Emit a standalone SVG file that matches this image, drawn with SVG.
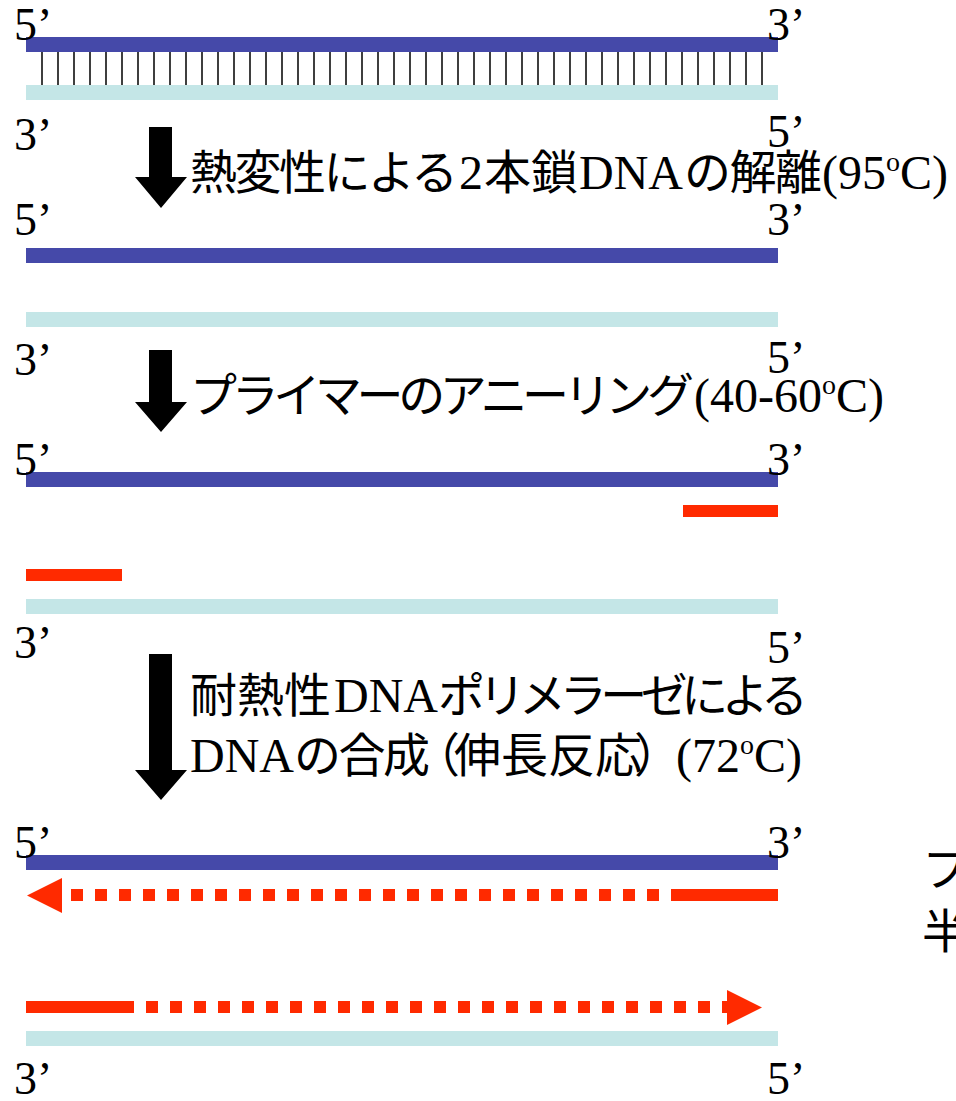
<svg xmlns="http://www.w3.org/2000/svg" width="956" height="1101" viewBox="0 0 956 1101">
<style>
.bg{fill:#ffffff}
.blue{fill:#4549A9}
.cyan{fill:#C4E6E7}
.red{fill:#FF2A00}
.lbl{font-family:"Liberation Serif","Times New Roman",serif;font-size:46px;fill:#000}
.t{font-size:48px;fill:#000}
.lat{font-family:"Liberation Serif","Times New Roman",serif}
.jp{font-family:"Noto Sans CJK JP","Noto Sans CJK SC",sans-serif;font-size:47px}
.sup{font-family:"Liberation Serif","Times New Roman",serif;font-size:28px}
.tick{stroke:#000;stroke-width:1.5}
.dash{stroke:#FF2A00;stroke-width:12;stroke-dasharray:12 12;fill:none}
.blk{fill:#000}
</style>
<rect class="bg" x="0" y="0" width="956" height="1101"/>

<g id="row1">
  <rect class="blue" x="26" y="37" width="752" height="15"/>
  <rect class="cyan" x="26" y="85" width="752" height="15"/>
  <g id="hbonds">
    <path class="tick" d="M42 52V85M58 52V85M74 52V85M90 52V85M106 52V85M122 52V85M138 52V85M154 52V85M170 52V85M186 52V85M202 52V85M218 52V85M234 52V85M250 52V85M266 52V85M282 52V85M298 52V85M314 52V85M330 52V85M346 52V85M362 52V85M378 52V85M394 52V85M410 52V85M426 52V85M442 52V85M458 52V85M474 52V85M490 52V85M506 52V85M522 52V85M538 52V85M554 52V85M570 52V85M586 52V85M602 52V85M618 52V85M634 52V85M650 52V85M666 52V85M682 52V85M698 52V85M714 52V85M730 52V85M746 52V85M762 52V85"/>
  </g>
  <text class="lbl" x="14" y="40">5’</text>
  <text class="lbl" x="767" y="40">3’</text>
  <text class="lbl" x="14" y="150">3’</text>
  <text class="lbl" x="767" y="147">5’</text>
</g>

<g id="row2">
  <rect class="blue" x="26" y="248" width="752" height="15"/>
  <rect class="cyan" x="26" y="312" width="752" height="15"/>
  <text class="lbl" x="14" y="235">5’</text>
  <text class="lbl" x="767" y="235">3’</text>
  <text class="lbl" x="14" y="375">3’</text>
  <text class="lbl" x="767" y="373">5’</text>
</g>

<g id="row3">
  <rect class="blue" x="26" y="472" width="752" height="15"/>
  <rect class="red" x="683" y="505" width="95" height="12"/>
  <rect class="red" x="26" y="569" width="96" height="12"/>
  <rect class="cyan" x="26" y="599" width="752" height="15"/>
  <text class="lbl" x="14" y="475">5’</text>
  <text class="lbl" x="767" y="475">3’</text>
  <text class="lbl" x="14" y="658">3’</text>
  <text class="lbl" x="767" y="663">5’</text>
</g>

<g id="row4">
  <rect class="blue" x="26" y="855" width="752" height="15"/>
  <rect class="red" x="683" y="889" width="95" height="12"/>
  <line class="dash" x1="683" y1="895" x2="71" y2="895"/>
  <polygon class="red" points="27,895.5 62,878 62,913"/>
  <rect class="red" x="26" y="1001" width="96" height="12"/>
  <line class="dash" x1="122" y1="1007" x2="734" y2="1007"/>
  <polygon class="red" points="762,1007.5 727,990 727,1025"/>
  <rect class="cyan" x="26" y="1031" width="752" height="15"/>
  <text class="lbl" x="14" y="858">5’</text>
  <text class="lbl" x="767" y="858">3’</text>
  <text class="lbl" x="14" y="1094">3’</text>
  <text class="lbl" x="767" y="1094">5’</text>
</g>

<g id="connectors">
  <polygon class="blk" points="149,127 172,127 172,177 187,177 161,208 135,177 149,177"/>
  <polygon class="blk" points="149,350 172,350 172,402 187,402 161,432 135,402 149,402"/>
  <polygon class="blk" points="149,654 172,654 172,770 187,770 161,800 135,770 149,770"/>
</g>

<g id="step1">
  <text class="t" y="189"><tspan class="jp" x="190" textLength="268" lengthAdjust="spacing">熱変性による</tspan><tspan class="lat" x="459">2</tspan><tspan class="jp" x="484">本鎖</tspan><tspan class="lat" x="579">DNA</tspan><tspan class="jp" x="684" textLength="138" lengthAdjust="spacing">の解離</tspan><tspan class="lat" x="822">(95</tspan><tspan class="sup" x="886" dy="-18">o</tspan><tspan class="lat" x="900" dy="18">C)</tspan></text>
</g>

<g id="step2">
  <text class="t" y="412"><tspan class="jp" x="190" textLength="504" lengthAdjust="spacing">プライマーのアニーリング</tspan><tspan class="lat" x="694">(40-60</tspan><tspan class="sup" x="822" dy="-18">o</tspan><tspan class="lat" x="836" dy="18">C)</tspan></text>
</g>

<g id="step3">
  <text class="t" y="712"><tspan class="jp" x="190">耐熱性</tspan><tspan class="lat" x="334">DNA</tspan><tspan class="jp" x="438" textLength="370" lengthAdjust="spacing">ポリメラーゼによる</tspan></text>
  <text class="t" y="772"><tspan class="lat" x="190">DNA</tspan><tspan class="jp" x="294" textLength="136" lengthAdjust="spacing">の合成</tspan><tspan class="jp" x="413">（</tspan><tspan class="jp" x="454">伸長反応</tspan><tspan class="jp" x="634">）</tspan><tspan class="lat" x="676">(72</tspan><tspan class="sup" x="740" dy="-18">o</tspan><tspan class="lat" x="754" dy="18">C)</tspan></text>
</g>

<g id="side-note">
  <text class="jp" x="922" y="886">フ</text>
  <text class="jp" x="922" y="948">半</text>
</g>
</svg>
